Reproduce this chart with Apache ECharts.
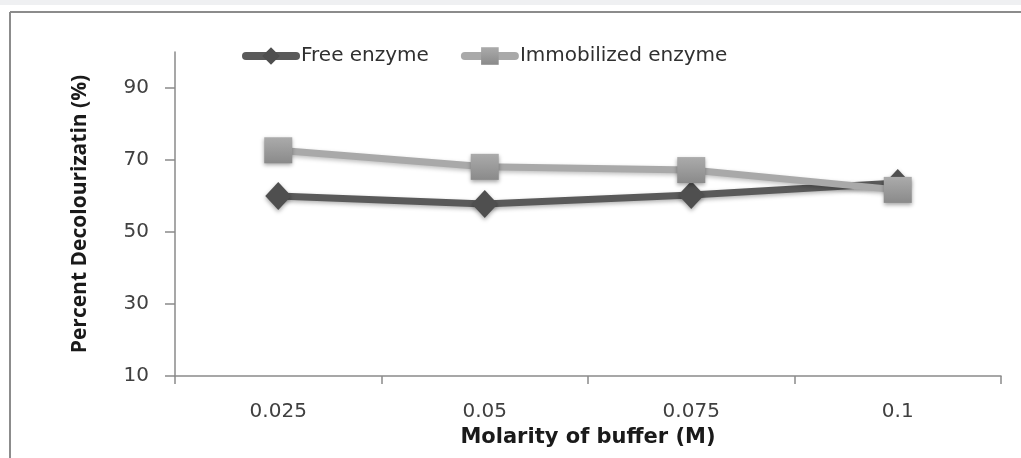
<!DOCTYPE html>
<html>
<head>
<meta charset="utf-8">
<script src="https://cdn.jsdelivr.net/npm/echarts@6/dist/echarts.min.js"></script>
<style>
  html, body { margin: 0; padding: 0; background: #ffffff; }
  #chart { width: 1021px; height: 458px; }
</style>
</head>
<body>
<div id="chart"></div>
<script>
// Buffer molarity categories and percent decolourization per enzyme form
const categories = ['0.025', '0.05', '0.075', '0.1'];
const freeEnzyme = [60.0, 57.8, 60.3, 63.6];
const immobilizedEnzyme = [72.7, 68.1, 67.2, 61.7];
const yTicks = [10, 30, 50, 70, 90];

const chart = echarts.init(document.getElementById('chart'), null, { renderer: 'canvas' });

const axisGray = '#8a8a8a';
const labelGray = '#404040';

chart.setOption({
  backgroundColor: '#ffffff',
  animation: false,
  graphic: [
    { type: 'rect', z: -10, shape: { x: 0, y: 0, width: 1021, height: 5 }, style: { fill: '#eff0f2' } },
    { type: 'line', z: -5, shape: { x1: 10, y1: 12, x2: 1021, y2: 12 }, style: { stroke: '#8c8c8c', lineWidth: 2 } },
    { type: 'line', z: -5, shape: { x1: 10, y1: 12, x2: 10, y2: 458 }, style: { stroke: '#8c8c8c', lineWidth: 2 } }
  ],
  legend: {
    left: 237,
    top: 41,
    itemWidth: 50,
    itemHeight: 22,
    itemGap: 32,
    textStyle: { fontFamily: 'DejaVu Sans', fontSize: 20, color: '#303030' },
    data: [
      { name: 'Free enzyme', lineStyle: { width: 8, color: '#5a5a5a', cap: 'round' } },
      { name: 'Immobilized enzyme', lineStyle: { width: 8, color: '#a9a9a9', cap: 'round' } }
    ]
  },
  grid: { left: 175, right: 20, top: 52, bottom: 82, containLabel: false },
  xAxis: {
    type: 'category',
    data: categories,
    boundaryGap: true,
    name: 'Molarity of buffer (M)',
    nameLocation: 'middle',
    nameGap: 51,
    nameTextStyle: { fontFamily: 'DejaVu Sans', fontWeight: 'bold', fontSize: 21, color: '#1a1a1a' },
    axisLine: { lineStyle: { color: axisGray, width: 1.5 } },
    axisTick: { show: true, alignWithLabel: false, length: 8, lineStyle: { color: axisGray, width: 1.5 } },
    axisLabel: { margin: 26, fontFamily: 'DejaVu Sans', fontSize: 20, color: labelGray },
    splitLine: { show: false }
  },
  yAxis: {
    type: 'value',
    min: 10,
    max: 100,
    interval: 20,
    name: 'Percent Decolourizatin (%)',
    nameLocation: 'middle',
    nameGap: 84,
    nameTextStyle: { fontFamily: 'Open Sans', fontWeight: 'bold', fontSize: 21, color: '#1a1a1a' },
    axisLine: { show: true, lineStyle: { color: axisGray, width: 1.5 } },
    axisTick: { show: true, length: 10, customValues: yTicks, lineStyle: { color: axisGray, width: 1.5 } },
    axisLabel: { margin: 26, customValues: yTicks, fontFamily: 'DejaVu Sans', fontSize: 20, color: labelGray },
    splitLine: { show: false }
  },
  series: [
    {
      name: 'Free enzyme',
      type: 'line',
      data: freeEnzyme,
      symbol: 'diamond',
      symbolSize: [26, 28],
      z: 2,
      lineStyle: { color: '#5a5a5a', width: 7, shadowColor: 'rgba(0,0,0,0.3)', shadowBlur: 4, shadowOffsetY: 2 },
      itemStyle: { color: '#4f4f4f', shadowColor: 'rgba(0,0,0,0.35)', shadowBlur: 4, shadowOffsetY: 2 }
    },
    {
      name: 'Immobilized enzyme',
      type: 'line',
      data: immobilizedEnzyme,
      symbol: 'rect',
      symbolSize: [28, 26],
      z: 3,
      lineStyle: { color: '#a9a9a9', width: 7, shadowColor: 'rgba(0,0,0,0.25)', shadowBlur: 4, shadowOffsetY: 2 },
      itemStyle: {
        color: new echarts.graphic.LinearGradient(0, 0, 0, 1, [
          { offset: 0, color: '#ababab' },
          { offset: 1, color: '#8a8a8a' }
        ]),
        shadowColor: 'rgba(0,0,0,0.35)', shadowBlur: 4, shadowOffsetY: 2
      }
    }
  ]
});
</script>
</body>
</html>
